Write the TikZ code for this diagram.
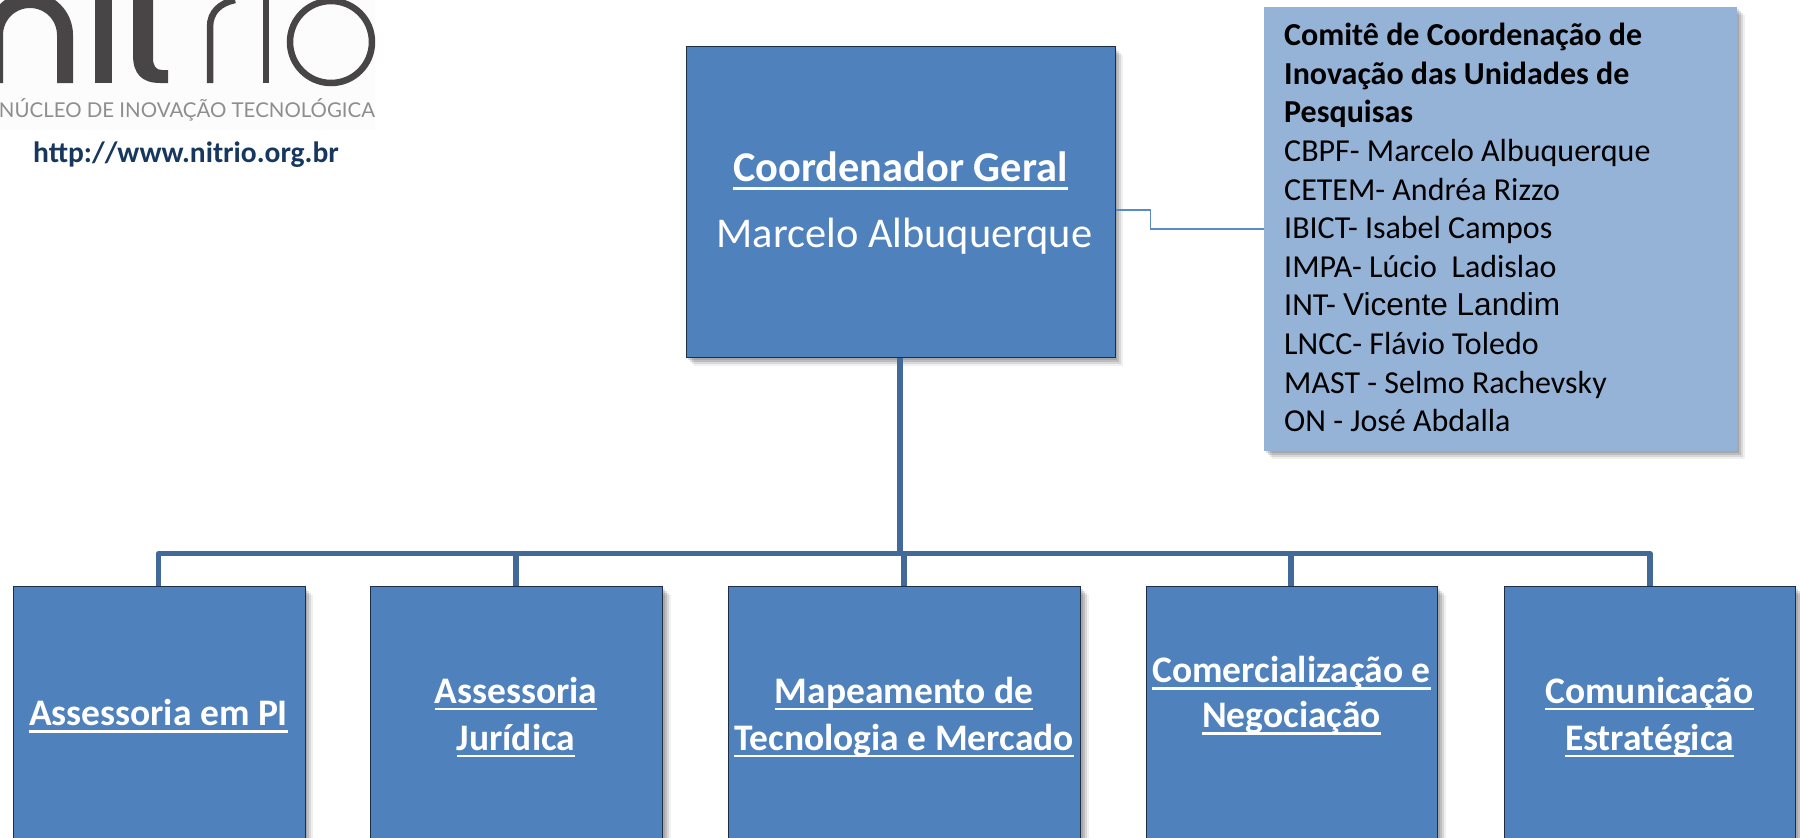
\documentclass[tikz,border=0pt]{standalone}
\usepackage{fontspec}
\setmainfont{Carlito}
\newfontfamily\arialf{Liberation Sans}
\newfontfamily\logof{Lato}
\newcommand\ulin[2][4.5]{\setbox0=\hbox{#2}\leavevmode\rlap{\vrule width\wd0 height -#1pt depth \dimexpr#1pt+2.5pt\relax}\box0 }
\definecolor{boxblue}{HTML}{4F81BD}
\definecolor{paleblue}{HTML}{95B3D7}
\definecolor{barblue}{HTML}{41699A}
\definecolor{linkblue}{HTML}{5B8AC8}
\definecolor{edgedark}{HTML}{1E2F45}
\definecolor{urlblue}{HTML}{17375E}
\definecolor{logodark}{HTML}{474546}
\definecolor{logogray}{HTML}{8E8E8E}
\tikzset{
  softshadow/.style={
    preaction={draw=none,fill=black,fill opacity=.12,transform canvas={xshift=2pt,yshift=-2pt}},
    preaction={draw=none,fill=black,fill opacity=.12,transform canvas={xshift=4pt,yshift=-4pt}},
    preaction={draw=none,fill=black,fill opacity=.10,transform canvas={xshift=6pt,yshift=-6pt}},
    preaction={draw=none,fill=black,fill opacity=.06,transform canvas={xshift=8pt,yshift=-8pt}}},
  orgbox/.style={rectangle,softshadow,fill=boxblue,draw=edgedark,line width=1pt,inner sep=0pt,anchor=north west},
  boxlabel/.style={text=white,align=center,font=\fontsize{37.5}{47}\selectfont\bfseries,inner sep=0pt},
  bar/.style={draw=barblue,line width=5.5pt},
  link/.style={draw=linkblue,line width=1.5pt},
  committee/.style={rectangle,softshadow,fill=paleblue,anchor=north west,inner sep=0pt,minimum width=473pt,minimum height=444pt},
  logostroke/.style={draw=logodark},
}
\begin{document}
\begin{tikzpicture}[x=1pt,y=-1pt]
\useasboundingbox (0,0) rectangle (1800,838);
\clip (0,0) rectangle (1800,838);
% logo
\fill[white!99!black] (0,0) rectangle (375,130);
\draw[logostroke,line width=16pt] (-5,83) -- (-5,35) arc (180:360:35) -- (65,83);
\fill[logodark] (95,0) rectangle (112,83);
\fill[logodark] (133,0) -- (133,55) .. controls (133,74) and (142,83) .. (160,83) -- (168,83) -- (168,70) -- (162,70) .. controls (156,70) and (153,66) .. (153,58) -- (153,0) -- cycle;
\draw[logostroke,line width=6.5pt] (210,83) -- (210,27) .. controls (210,12) and (220,3) .. (235,0);
\draw[logostroke,line width=6.5pt] (266,83) -- (266,0);
\draw[logostroke,line width=6.5pt] (331,42) circle (41);
\node[anchor=base,text=logogray,inner sep=0pt] (logotext) at (187,117) {\resizebox{376pt}{!}{\logof NÚCLEO DE INOVAÇÃO TECNOLÓGICA}};
\node[text=urlblue,inner sep=0pt,font=\fontsize{29.5}{34}\selectfont\bfseries] (url) at (186,155) {http://www.nitrio.org.br};
% boxes
\node[orgbox,minimum width=429pt,minimum height=311pt] (coord) at (685.5,46) {};
\node[text=white,align=center,inner sep=0pt,font=\fontsize{42.4}{66.5}\selectfont,shift={(0pt,-1pt)}] (coordt) at (coord.center) {\textbf{\ulin[6]{Coordenador Geral}}\\\hspace*{8pt}Marcelo Albuquerque};
\node[committee] (com) at (1264,7) {};
\node[anchor=north west,inner sep=0pt,align=left,font=\fontsize{32}{38.6}\selectfont] (comt) at (1284,23) {\textbf{Comitê de Coordenação de}\\\textbf{Inovação das Unidades de}\\\textbf{Pesquisas}\\CBPF- Marcelo Albuquerque\\CETEM- Andréa Rizzo\\IBICT- Isabel Campos\\IMPA- Lúcio\ \ Ladislao\\INT- {\arialf\fontsize{31.6}{38.6}\selectfont Vicente Landim}\\LNCC- Flávio Toledo\\MAST - Selmo Rachevsky\\ON - José Abdalla};
\node[orgbox,minimum width=292pt,minimum height=270pt] (b1) at (12.5,586) {};
\node[orgbox,minimum width=292pt,minimum height=270pt] (b2) at (370,586) {};
\node[orgbox,minimum width=352pt,minimum height=270pt] (b3) at (728,586) {};
\node[orgbox,minimum width=291pt,minimum height=270pt] (b4) at (1146,586) {};
\node[orgbox,minimum width=291pt,minimum height=270pt] (b5) at (1504,586) {};
\node[boxlabel] (t1) at (158.5,716) {\ulin{Assessoria em PI}};
\node[boxlabel] (t2) at (516,717) {\ulin{Assessoria}\\\ulin{Jurídica}};
\node[boxlabel] (t3) at (904,717) {\ulin{Mapeamento de}\\\ulin{Tecnologia e Mercado}};
\node[boxlabel,font=\fontsize{37.5}{45}\selectfont\bfseries] (t4) at (1291.5,695.5) {\ulin{Comercialização e}\\\ulin{Negociação}};
\node[boxlabel] (t5) at (1649.5,717) {\ulin{Comunicação}\\\ulin{Estratégica}};
% connectors
\coordinate (hubL) at (158.5,553.7);
\coordinate (hubR) at (1650,553.7);
\draw[bar,line width=6pt] (coord.south -| 900,0) -- (900,553.7);
\draw[bar,line join=round] (b1.north -| hubL) -- (hubL) -- (hubR) -- (b5.north -| hubR);
\draw[bar] (516,553.7) -- (b2.north -| 516,0);
\draw[bar] (904,553.7) -- (b3.north -| 904,0);
\draw[bar] (1291,553.7) -- (b4.north -| 1291,0);
\draw[link] (coord.east |- 0,210) -- (1150.5,210) -- (1150.5,229) -- (com.west |- 0,229);
\end{tikzpicture}
\end{document}
